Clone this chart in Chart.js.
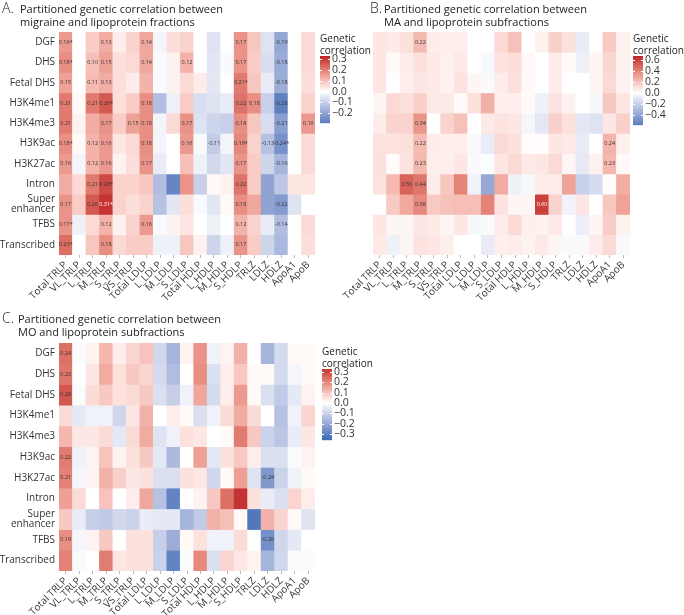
<!DOCTYPE html>
<html>
<head>
<meta charset="utf-8">
<script src="https://cdn.jsdelivr.net/npm/chart.js@4.4.0/dist/chart.umd.min.js"></script>
<style>
body { margin: 0; background: #fff; width: 684px; height: 615px; position: relative; overflow: hidden; }
canvas { position: absolute; }
</style>
</head>
<body>
<canvas id="panelA" width="380" height="310" style="left:0;top:0"></canvas>
<canvas id="panelB" width="354" height="310" style="left:330px;top:0"></canvas>
<canvas id="panelC" width="420" height="315" style="left:0;top:300px"></canvas>
<script>
var colLabels = ["Total TRLP", "VL_TRLP", "L_TRLP", "M_TRLP", "S_TRLP", "VS_TRLP", "Total LDLP", "L_LDLP", "M_LDLP", "S_LDLP",
  "Total HDLP", "L_HDLP", "M_HDLP", "S_HDLP", "TRLZ", "LDLZ", "HDLZ", "ApoA1", "ApoB"];
var rowLabels = ["DGF", "DHS", "Fetal DHS", "H3K4me1", "H3K4me3", "H3K9ac", "H3K27ac", "Intron", ["Super", "enhancer"], "TFBS", "Transcribed"];

// A: migraine
var valsA = [
  [0.16, 0, 0.08, 0.13, 0.03, 0.07, 0.14, -0.02, 0.05, 0.07, 0, -0.06, 0, 0.17, 0.09, -0.06, -0.19, 0, 0.06],
  [0.18, 0, 0.10, 0.15, 0.05, 0.06, 0.14, -0.01, 0.02, 0.12, 0, -0.05, -0.01, 0.17, 0.08, -0.07, -0.18, 0, 0.06],
  [0.15, 0, 0.11, 0.13, 0.05, 0.03, 0.12, -0.01, 0.02, 0.06, 0.03, -0.05, 0, 0.21, 0.09, -0.04, -0.18, 0, 0.05],
  [0.21, 0.01, 0.21, 0.26, 0.05, 0.08, 0.18, -0.14, -0.03, 0.08, -0.07, -0.06, -0.04, 0.22, 0.18, -0.10, -0.28, 0, 0.07],
  [0.21, 0.02, 0.13, 0.17, 0.08, 0.15, 0.18, -0.02, 0.06, 0.17, -0.06, -0.09, -0.10, 0.18, 0.09, -0.07, -0.21, 0, 0.16],
  [0.18, 0.01, 0.12, 0.16, 0.04, 0.06, 0.18, -0.02, 0, 0.16, -0.01, -0.11, -0.02, 0.19, 0.07, -0.13, -0.24, 0, 0.06],
  [0.16, -0.02, 0.12, 0.16, 0.02, 0.05, 0.17, -0.04, 0, 0.10, -0.03, -0.08, -0.05, 0.17, 0.08, -0.09, -0.16, 0, 0.06],
  [0.13, 0.06, 0.21, 0.28, 0.07, 0.07, 0.09, -0.14, -0.27, 0.17, -0.10, 0.01, 0.02, 0.22, 0.08, -0.20, -0.12, 0.04, 0.04],
  [0.17, 0.08, 0.26, 0.31, 0.07, 0.05, 0.07, -0.13, -0.05, 0.05, -0.01, -0.05, 0.01, 0.18, 0.14, -0.20, -0.22, -0.06, 0],
  [0.17, -0.03, 0.06, 0.12, 0.02, 0.07, 0.16, -0.01, 0.02, 0.04, 0, -0.03, 0, 0.12, 0.07, -0.04, -0.14, 0, 0.06],
  [0.23, 0, 0.09, 0.18, 0.06, 0.08, 0.08, -0.03, -0.03, 0.09, 0.02, -0.09, -0.03, 0.17, 0.08, -0.09, -0.15, 0, 0.05]
];
var textA = [
  [0, 0, "0.16*"], [0, 3, "0.13"], [0, 6, "0.14"], [0, 13, "0.17"], [0, 16, "-0.19"],
  [1, 0, "0.18*"], [1, 2, "0.10"], [1, 3, "0.15"], [1, 6, "0.14"], [1, 9, "0.12"], [1, 13, "0.17"], [1, 16, "-0.18"],
  [2, 0, "0.15"], [2, 2, "0.11"], [2, 3, "0.13"], [2, 13, "0.21*"], [2, 16, "-0.18"],
  [3, 0, "0.21"], [3, 2, "0.21"], [3, 3, "0.26*"], [3, 6, "0.18"], [3, 13, "0.22"], [3, 14, "0.18"], [3, 16, "-0.28"],
  [4, 0, "0.21"], [4, 3, "0.17"], [4, 5, "0.15"], [4, 6, "0.18"], [4, 9, "0.17"], [4, 13, "0.18"], [4, 16, "-0.21"], [4, 18, "0.16"],
  [5, 0, "0.18*"], [5, 2, "0.12"], [5, 3, "0.16"], [5, 6, "0.18"], [5, 9, "0.16"], [5, 11, "-0.11"], [5, 13, "0.19*"], [5, 15, "-0.13"], [5, 16, "-0.24*"],
  [6, 0, "0.16"], [6, 2, "0.12"], [6, 3, "0.16"], [6, 6, "0.17"], [6, 13, "0.17"], [6, 16, "-0.16"],
  [7, 2, "0.21"], [7, 3, "0.28*"], [7, 13, "0.22"],
  [8, 0, "0.17"], [8, 2, "0.26"], [8, 3, "0.31*"], [8, 13, "0.18"], [8, 16, "-0.22"],
  [9, 0, "0.17*"], [9, 3, "0.12"], [9, 6, "0.16"], [9, 13, "0.12"], [9, 16, "-0.14"],
  [10, 0, "0.23*"], [10, 3, "0.18"], [10, 13, "0.17"]
];
var rangeA = [-0.285, 0.33];
var breaksA = [0.3, 0.2, 0.1, 0, -0.1, -0.2];

// B: migraine with aura
var valsB = [
  [0.08, 0.07, 0.10, 0.22, 0.06, 0.05, 0.05, 0, 0, 0.12, 0.20, 0, 0.04, 0.15, 0.10, -0.08, 0, 0.17, 0.04],
  [0.08, 0.02, 0.06, 0.10, 0.07, 0.04, 0.07, 0, -0.03, 0.09, 0.11, 0.02, 0, 0.06, 0.02, -0.06, 0.03, 0.13, 0.04],
  [0.08, 0, 0.05, 0.08, 0.07, 0.04, 0.09, 0.03, -0.02, 0.06, 0.10, 0.02, 0, 0.06, 0, 0, 0.03, 0.12, 0.04],
  [0.03, 0.12, 0.10, 0.15, 0.07, 0.07, 0.02, 0.10, 0.25, 0.05, 0.05, 0.02, -0.06, 0.09, 0.04, 0, -0.03, 0.18, 0.08],
  [0.06, 0.14, 0.14, 0.34, 0, 0.14, 0.20, 0, 0.07, 0.09, 0.08, -0.04, -0.10, 0.15, 0.10, -0.10, -0.12, 0.08, 0.15],
  [0.09, 0.09, 0.10, 0.22, 0.06, 0.05, 0.05, -0.02, -0.08, 0.12, 0.10, 0.01, 0.01, 0.08, 0.07, -0.08, 0, 0.24, 0.05],
  [0.10, 0.01, 0.09, 0.23, 0.05, 0.05, 0.08, -0.02, -0.01, 0.08, 0.12, 0.07, 0.08, 0.12, 0.03, -0.09, 0.04, 0.23, 0.02],
  [0.09, 0.22, 0.50, 0.44, 0.06, 0.18, 0.40, -0.05, -0.38, 0.27, -0.06, -0.03, 0.06, 0.06, 0.30, -0.20, -0.15, 0.01, 0.26],
  [0, 0.17, 0.28, 0.38, 0.17, 0.20, 0.21, 0.21, 0.40, 0.09, 0.03, 0.03, 0.60, 0.14, -0.05, 0.08, 0, 0.18, 0.30],
  [0.08, 0.03, 0.03, 0.08, 0.07, 0.03, 0.08, -0.03, -0.02, 0.06, 0.12, 0.05, 0.04, 0.07, 0, -0.07, 0.03, 0.16, 0.04],
  [0.07, -0.06, 0.03, 0.09, 0.08, 0.05, 0, 0, -0.08, 0.05, 0.06, 0.04, 0.07, 0.03, -0.02, -0.02, 0.06, 0.12, -0.02]
];
var textB = [
  [0, 3, "0.22"], [4, 3, "0.34"], [5, 3, "0.22"], [5, 17, "0.24"], [6, 3, "0.23"], [6, 17, "0.23"],
  [7, 2, "0.50"], [7, 3, "0.44"], [8, 3, "0.38"], [8, 12, "0.60"]
];
var rangeB = [-0.58, 0.67];
var breaksB = [0.6, 0.4, 0.2, 0, -0.2, -0.4];

// C: migraine without aura
var valsC = [
  [0.24, -0.01, 0.02, 0.12, 0.03, 0.07, 0.10, -0.09, -0.17, 0.02, 0.18, -0.03, 0.02, 0.13, 0, -0.17, -0.08, 0.01, 0.01],
  [0.23, 0, 0.04, 0.14, 0.05, 0.09, 0.07, -0.08, -0.15, 0, 0.19, -0.07, 0.03, 0.09, 0.01, 0.01, -0.08, -0.02, 0.01],
  [0.28, -0.01, 0.06, 0.09, 0.05, 0.06, 0.09, -0.07, -0.11, -0.03, 0.15, -0.08, 0.03, 0.17, 0.01, -0.07, -0.12, -0.05, 0.02],
  [0.06, -0.05, -0.03, -0.03, -0.09, 0.04, 0.13, 0, 0.03, 0.01, -0.07, -0.03, 0.06, 0.14, 0.06, 0, -0.14, -0.03, 0.07],
  [0.12, 0.04, 0.04, 0.06, -0.05, 0.06, 0.14, -0.06, -0.03, 0.05, 0.04, 0, 0.01, 0.22, 0.09, -0.10, -0.13, -0.04, 0.04],
  [0.22, -0.03, 0.02, 0.10, 0.02, 0.05, 0.09, -0.05, -0.16, 0, 0.16, -0.05, 0.05, 0.09, 0.03, -0.07, -0.07, -0.01, 0.02],
  [0.21, -0.02, 0.02, 0.13, 0.08, 0.04, 0.05, -0.07, -0.07, 0.05, 0.04, -0.09, 0.01, 0.16, -0.06, -0.24, -0.10, -0.03, 0.01],
  [0.16, 0.06, 0, 0.10, 0, 0.03, 0.15, -0.14, -0.29, 0, 0.02, 0.09, 0.24, 0.33, 0.05, -0.04, -0.07, 0.07, 0.03],
  [0.09, -0.04, -0.11, -0.12, -0.09, -0.10, -0.04, -0.05, -0.05, -0.17, -0.12, 0.13, 0.11, 0.01, -0.32, 0.13, 0.07, 0.01, -0.06],
  [0.19, -0.02, 0.02, 0.09, 0, 0.05, 0.05, -0.11, -0.19, 0.01, 0.05, -0.03, -0.03, 0.06, 0, -0.26, -0.09, -0.05, 0],
  [0.21, -0.01, 0, 0.22, 0.04, 0.05, 0.05, -0.10, -0.29, -0.01, 0.20, -0.07, 0.07, 0.04, 0.02, -0.17, -0.09, -0.01, -0.01]
];
var textC = [
  [0, 0, "0.24"], [1, 0, "0.23"], [2, 0, "0.28"], [5, 0, "0.22"], [6, 0, "0.21"], [6, 15, "-0.24"], [9, 0, "0.19"], [9, 15, "-0.26"]
];
var rangeC = [-0.35, 0.33];
var breaksC = [0.3, 0.2, 0.1, 0, -0.1, -0.2, -0.3];

var FONT = '"Open Sans", "Noto Sans", sans-serif';
var HIGH = "#BE1F28", LOW = "#3A6DB5";

// colour scale interpolated in Lab space, white at 0
function toLab(hex) {
  var c = [1, 3, 5].map(function (i) {
    var v = parseInt(hex.substr(i, 2), 16) / 255;
    return v <= 0.04045 ? v / 12.92 : Math.pow((v + 0.055) / 1.055, 2.4);
  });
  var X = (0.4124 * c[0] + 0.3576 * c[1] + 0.1805 * c[2]) / 0.95047;
  var Y = 0.2126 * c[0] + 0.7152 * c[1] + 0.0722 * c[2];
  var Z = (0.0193 * c[0] + 0.1192 * c[1] + 0.9505 * c[2]) / 1.08883;
  var f = function (t) { return t > 0.008856 ? Math.cbrt(t) : 7.787 * t + 16 / 116; };
  return [116 * f(Y) - 16, 500 * (f(X) - f(Y)), 200 * (f(Y) - f(Z))];
}
function fromLab(L) {
  var fy = (L[0] + 16) / 116, fx = fy + L[1] / 500, fz = fy - L[2] / 200;
  var g = function (t) { return t * t * t > 0.008856 ? t * t * t : (t - 16 / 116) / 7.787; };
  var X = g(fx) * 0.95047, Y = g(fy), Z = g(fz) * 1.08883;
  var rgb = [3.2406 * X - 1.5372 * Y - 0.4986 * Z, -0.9689 * X + 1.8758 * Y + 0.0415 * Z, 0.0557 * X - 0.2040 * Y + 1.0570 * Z];
  return "rgb(" + rgb.map(function (v) {
    v = v <= 0.0031308 ? 12.92 * v : 1.055 * Math.pow(v, 1 / 2.4) - 0.055;
    return Math.round(Math.max(0, Math.min(1, v)) * 255);
  }).join(",") + ")";
}
var labW = toLab("#FFFFFF"), labH = toLab(HIGH), labL = toLab(LOW);
function fillColor(t) {
  t = Math.max(-1, Math.min(1, t));
  var end = t >= 0 ? labH : labL, a = Math.abs(t);
  return fromLab([0, 1, 2].map(function (k) { return labW[k] + (end[k] - labW[k]) * a; }));
}

function drawColorbar(ctx, lg, range, breaks, maxAbs) {
  var top = lg.top, ppu = lg.ppu, h = (range[1] - range[0]) * ppu;
  ctx.save();
  ctx.fillStyle = "#222";
  ctx.font = "10px " + FONT;
  ctx.textAlign = "left";
  ctx.textBaseline = "alphabetic";
  ctx.fillText("Genetic", lg.x, lg.titleY);
  ctx.fillText("correlation", lg.x, lg.titleY + 11.5);
  for (var i = 0; i < h; i++) {
    ctx.fillStyle = fillColor((range[1] - (i + 0.5) / ppu) / maxAbs);
    ctx.fillRect(lg.x, top + i, 10, 1.2);
  }
  ctx.font = "10.5px " + FONT;
  ctx.textBaseline = "middle";
  breaks.forEach(function (b) {
    var y = Math.round(top + (range[1] - b) * ppu) + 0.5;
    ctx.strokeStyle = "#fff";
    ctx.lineWidth = 1;
    ctx.beginPath();
    ctx.moveTo(lg.x, y); ctx.lineTo(lg.x + 2, y);
    ctx.moveTo(lg.x + 8, y); ctx.lineTo(lg.x + 10, y);
    ctx.stroke();
    ctx.fillStyle = "#333";
    ctx.fillText((b < 0 ? "\u2212" : "") + Math.abs(b).toFixed(1), lg.x + 12, y);
  });
  ctx.restore();
}

function makePanel(id, vals, texts, range, breaks, cfg) {
  var maxAbs = Math.max(-range[0], range[1]);
  var datasets = vals.map(function (row, i) {
    return {
      label: typeof rowLabels[i] === "string" ? rowLabels[i] : rowLabels[i].join(" "),
      data: row.map(function () { return 1; }),
      backgroundColor: row.map(function (v) { return fillColor(v / maxAbs); }),
      borderWidth: 0,
      barPercentage: 1,
      categoryPercentage: 1
    };
  });
  var deco = {
    id: "deco" + id,
    afterDraw: function (chart) {
      var ctx = chart.ctx;
      ctx.save();
      ctx.font = "5.5px " + FONT;
      ctx.textAlign = "center";
      ctx.textBaseline = "middle";
      texts.forEach(function (t) {
        var bar = chart.getDatasetMeta(t[0]).data[t[1]];
        var v = vals[t[0]][t[1]];
        ctx.fillStyle = Math.abs(v) / maxAbs > 0.88 ? "#ffffff" : "#333333";
        ctx.fillText(t[2], bar.x, (bar.y + bar.base) / 2);
      });
      ctx.fillStyle = "#222";
      ctx.textAlign = "left";
      ctx.textBaseline = "alphabetic";
      ctx.font = "300 14px " + FONT;
      ctx.fillText(cfg.letter, cfg.letterX, cfg.titleY);
      ctx.font = "11px " + FONT;
      ctx.fillText(cfg.title[0], cfg.titleX, cfg.titleY);
      ctx.fillText(cfg.title[1], cfg.titleX, cfg.titleY + 12.5);
      ctx.restore();
      drawColorbar(ctx, cfg.legend, range, breaks, maxAbs);
    }
  };
  return new Chart(id, {
    type: "bar",
    data: { labels: colLabels, datasets: datasets },
    options: {
      responsive: false,
      animation: false,
      devicePixelRatio: 1,
      layout: { padding: cfg.padding },
      plugins: { legend: { display: false }, tooltip: { enabled: false } },
      scales: {
        x: {
          stacked: true,
          grid: { display: true, drawOnChartArea: false, drawTicks: true, tickLength: 3, offset: false, color: "#bbb" },
          border: { display: false },
          ticks: { autoSkip: false, minRotation: 45, maxRotation: 45, padding: 1, color: "#333", font: { family: FONT, size: 10 } },
          afterFit: function (s) {
            s.height = cfg.xHeight;
            s.paddingLeft = 0;
            s.paddingRight = 0;
          }
        },
        y: {
          display: cfg.showY,
          stacked: true,
          reverse: true,
          min: 0,
          max: vals.length,
          grid: { display: false, drawTicks: false },
          border: { display: false },
          ticks: {
            stepSize: 0.5,
            autoSkip: false,
            padding: 4,
            color: "#333",
            font: { family: FONT, size: 10, lineHeight: 1.05 },
            callback: function (v) { return v % 1 === 0.5 ? rowLabels[Math.floor(v)] : ""; }
          },
          afterFit: function (s) { s.width = cfg.showY ? 59 : 0; }
        }
      }
    },
    plugins: [deco]
  });
}

makePanel("panelA", valsA, textA, rangeA, breaksA, {
  letter: "A.", letterX: 2, titleX: 20, titleY: 13,
  title: ["Partitioned genetic correlation between", "migraine and lipoprotein fractions"],
  padding: { top: 32, right: 65, left: 0, bottom: 0 }, xHeight: 55, showY: true,
  legend: { x: 320, top: 56, ppu: 108, titleY: 42 }
});
makePanel("panelB", valsB, textB, rangeB, breaksB, {
  letter: "B.", letterX: 40, titleX: 54, titleY: 13,
  title: ["Partitioned genetic correlation between", "MA and lipoprotein subfractions"],
  padding: { top: 32, right: 54, left: 43, bottom: 0 }, xHeight: 55, showY: false,
  legend: { x: 303, top: 56, ppu: 55, titleY: 42 }
});
makePanel("panelC", valsC, textC, rangeC, breaksC, {
  letter: "C.", letterX: 2, titleX: 18, titleY: 23,
  title: ["Partitioned genetic correlation between", "MO and lipoprotein subfractions"],
  padding: { top: 43, right: 105, left: 0, bottom: 0 }, xHeight: 44, showY: true,
  legend: { x: 322, top: 69, ppu: 103, titleY: 55 }
});
</script>
</body>
</html>
